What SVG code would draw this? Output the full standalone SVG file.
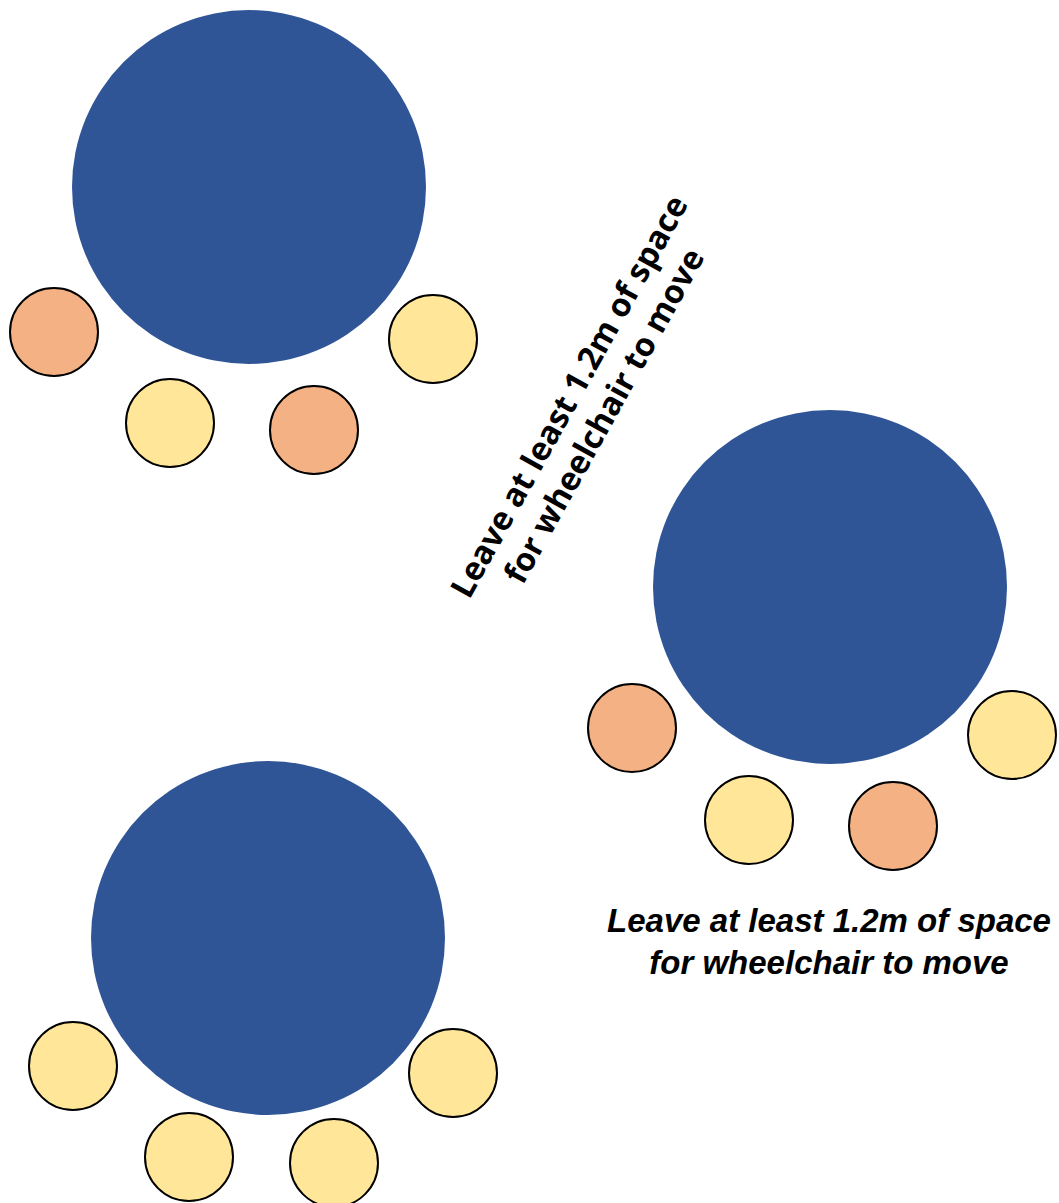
<svg xmlns="http://www.w3.org/2000/svg" width="1059" height="1203" viewBox="0 0 1059 1203">
<style>
.table{fill:#2F5597}
.chair{stroke:#000;stroke-width:2}
.o{fill:#F4B183}
.y{fill:#FFE699}
.lbl{font-family:"Liberation Sans",Arial,sans-serif;font-weight:bold;font-style:italic;font-size:33px;fill:#000;text-anchor:middle}
.diag{font-family:"Open Sans","Liberation Sans",sans-serif;font-weight:bold;font-size:32.5px;fill:#000;text-anchor:middle}
</style>
<rect width="1059" height="1203" fill="#fff"/>
<g id="table1">
<circle class="table" cx="249" cy="187" r="177"/>
<circle class="chair o" cx="54" cy="332" r="44"/>
<circle class="chair y" cx="170" cy="423" r="44"/>
<circle class="chair o" cx="314" cy="430" r="44"/>
<circle class="chair y" cx="433" cy="339" r="44"/>
</g>
<g id="table2">
<circle class="table" cx="830" cy="587" r="177"/>
<circle class="chair o" cx="632" cy="728" r="44"/>
<circle class="chair y" cx="749" cy="820" r="44"/>
<circle class="chair o" cx="893" cy="826" r="44"/>
<circle class="chair y" cx="1012" cy="735" r="44"/>
</g>
<g id="table3">
<circle class="table" cx="268" cy="938" r="177"/>
<circle class="chair y" cx="73" cy="1066" r="44"/>
<circle class="chair y" cx="189" cy="1157" r="44"/>
<circle class="chair y" cx="334" cy="1163" r="44"/>
<circle class="chair y" cx="453" cy="1073" r="44"/>
</g>
<g id="label-diagonal" transform="translate(579,402) rotate(-61)">
<text class="diag" x="0" y="0">Leave at least 1.2m of space</text>
<text class="diag" x="0" y="40">for wheelchair to move</text>
</g>
<g id="label-bottom">
<text class="lbl" x="829" y="932">Leave at least 1.2m of space</text>
<text class="lbl" x="829" y="974">for wheelchair to move</text>
</g>
<g id="connectors"></g>
</svg>
